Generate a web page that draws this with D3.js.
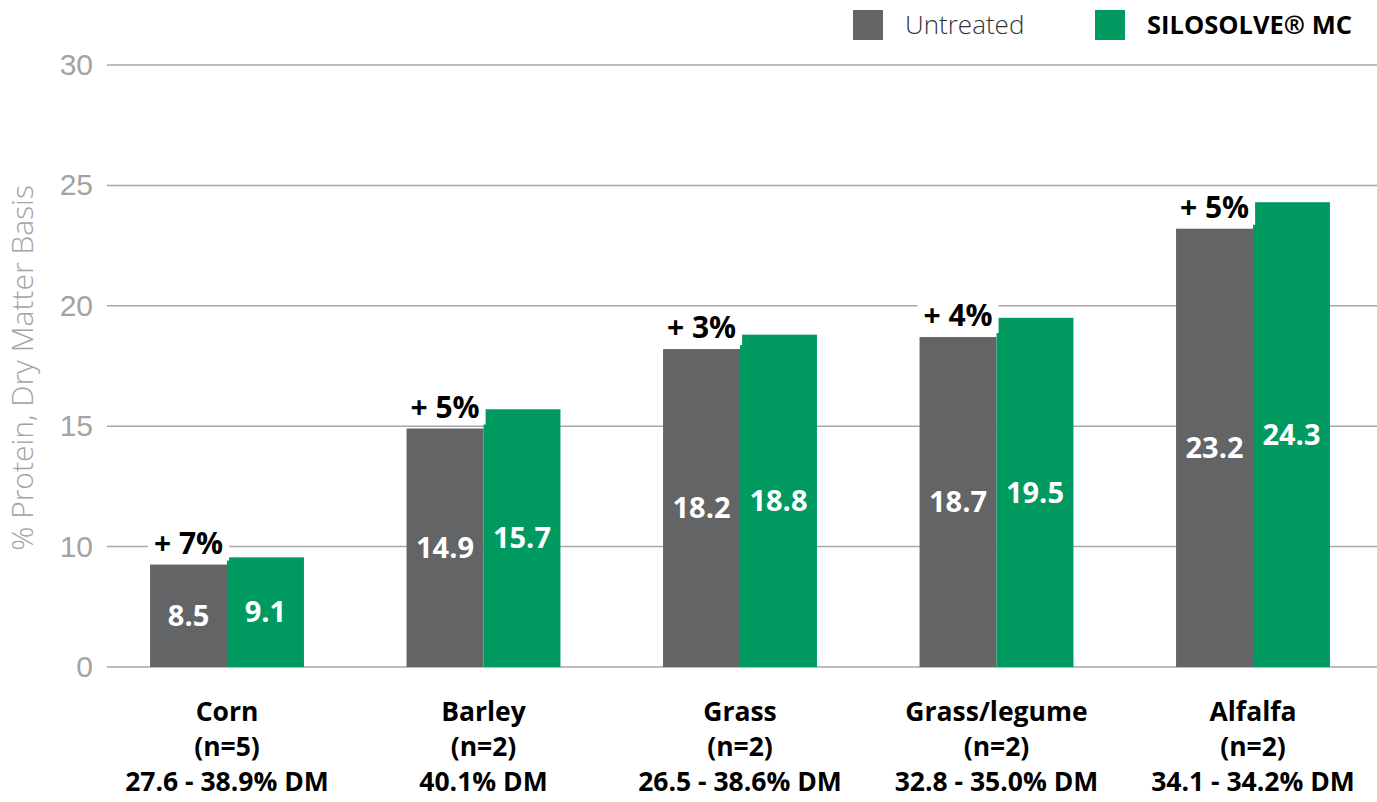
<!DOCTYPE html>
<html>
<head>
<meta charset="utf-8">
<script src="https://cdn.jsdelivr.net/npm/d3@7"></script>
<style>
  html, body { margin: 0; padding: 0; background: #fff; }
  svg { display: block; font-family: "Open Sans", "Noto Sans", sans-serif; }
</style>
</head>
<body>
<svg id="chart" width="1377" height="802"></svg>
<script>
// Crops and their sample descriptions
const crops = ["Corn", "Barley", "Grass", "Grass/legume", "Alfalfa"];
const sampleCounts = ["(n=5)", "(n=2)", "(n=2)", "(n=2)", "(n=2)"];
const dmRanges = ["27.6 - 38.9% DM", "40.1% DM", "26.5 - 38.6% DM", "32.8 - 35.0% DM", "34.1 - 34.2% DM"];

// Crude protein, % of dry matter
const untreated = [8.5, 14.9, 18.2, 18.7, 23.2];
const silosolve = [9.1, 15.7, 18.8, 19.5, 24.3];
const increaseLabels = ["+ 7%", "+ 5%", "+ 3%", "+ 4%", "+ 5%"];

// Axis ticks (the axis is compressed between 0 and 10)
const yTicks = [0, 10, 15, 20, 25, 30];
const yDomain = [0, 10, 30];

const seriesNames = ["Untreated", "SILOSOLVE\u00AE MC"];
const colors = ["#636466", "#009a61"];

const svg = d3.select("#chart");

const y = d3.scaleLinear().domain(yDomain).range([667, 546.5, 65]);

const x = d3.scaleBand().domain(crops).range([98.75, 1381.25])
  .paddingInner(0.4).paddingOuter(0.2);
const xs = d3.scaleBand().domain(seriesNames).range([0, x.bandwidth()]).padding(0);

// Grid lines and tick labels
const yAxis = d3.axisLeft(y).tickValues(yTicks).tickSize(0).tickPadding(14)
  .tickFormat(d3.format("d"));
const gAxis = svg.append("g").attr("transform", "translate(107,0)").call(yAxis);
gAxis.select(".domain").remove();
gAxis.selectAll("text")
  .attr("fill", "#a3a3a5")
  .style("font-size", "30px")
  .style("font-weight", 300);

svg.append("g").selectAll("line").data(yTicks).join("line")
  .attr("x1", 107).attr("x2", 1377)
  .attr("y1", d => y(d)).attr("y2", d => y(d))
  .attr("stroke", "#a8a8aa").attr("stroke-width", 1.5);

// Y axis title
svg.append("text")
  .attr("transform", `translate(33,${368}) rotate(-90)`)
  .attr("text-anchor", "middle")
  .attr("fill", "#a3a3a5")
  .style("font-size", "30px")
  .style("font-weight", 300)
  .text("% Protein, Dry Matter Basis");

// Bars
const rows = crops.map((c, i) => ({
  crop: c, values: [untreated[i], silosolve[i]], inc: increaseLabels[i]
}));

const groups = svg.append("g").selectAll("g").data(rows).join("g")
  .attr("transform", d => `translate(${x(d.crop)},0)`);

groups.selectAll("rect").data(d => d.values.map((v, k) => ({ v, k })))
  .join("rect")
  .attr("x", d => xs(seriesNames[d.k]))
  .attr("width", xs.bandwidth())
  .attr("y", d => y(d.v))
  .attr("height", d => y(0) - y(d.v))
  .attr("fill", d => colors[d.k]);

// Value labels inside bars
groups.selectAll("text.val").data(d => d.values.map((v, k) => ({ v, k })))
  .join("text").attr("class", "val")
  .attr("x", d => xs(seriesNames[d.k]) + xs.bandwidth() / 2)
  .attr("y", d => (y(d.v) + y(0)) / 2)
  .attr("dy", "0.35em")
  .attr("text-anchor", "middle")
  .attr("fill", "#fff")
  .style("font-size", "29px")
  .style("font-weight", 700)
  .text(d => d3.format(".1f")(d.v));

// Increase labels above the untreated bar, on a white backing
groups.each(function (d) {
  const g = d3.select(this);
  const cx = xs(seriesNames[0]) + xs.bandwidth() / 2;
  const t = g.append("text")
    .attr("x", cx)
    .attr("y", y(d.values[0]) - 11)
    .attr("text-anchor", "middle")
    .attr("fill", "#000")
    .style("font-size", "30px")
    .style("font-weight", 700)
    .text(d.inc);
  const bb = t.node().getBBox();
  g.insert("rect", "text")
    .attr("x", bb.x - 6).attr("y", bb.y + 2)
    .attr("width", bb.width + 12).attr("height", bb.height - 4)
    .attr("fill", "#fff");
});

// Category labels
const labelG = svg.append("g").selectAll("text").data(crops).join("text")
  .attr("x", d => x(d) + x.bandwidth() / 2)
  .attr("text-anchor", "middle")
  .attr("fill", "#000")
  .style("font-size", "26.5px")
  .style("font-weight", 700);
labelG.each(function (d, i) {
  const t = d3.select(this);
  [d, sampleCounts[i], dmRanges[i]].forEach((line, j) => {
    t.append("tspan").attr("x", x(d) + x.bandwidth() / 2)
      .attr("y", 721 + j * 35).text(line);
  });
});

// Legend
const legendItems = [
  { name: seriesNames[0], color: colors[0], x: 853, weight: 300, fill: "#333", size: 26 },
  { name: seriesNames[1], color: colors[1], x: 1095, weight: 700, fill: "#000", size: 25.5 }
];
const lg = svg.append("g").selectAll("g").data(legendItems).join("g")
  .attr("transform", d => `translate(${d.x},10)`);
lg.append("rect").attr("width", 30).attr("height", 30).attr("fill", d => d.color);
lg.append("text")
  .attr("x", 52)
  .attr("y", 24)
  .attr("fill", d => d.fill)
  .style("font-size", d => d.size + "px")
  .style("font-weight", d => d.weight)
  .text(d => d.name);
</script>
</body>
</html>
